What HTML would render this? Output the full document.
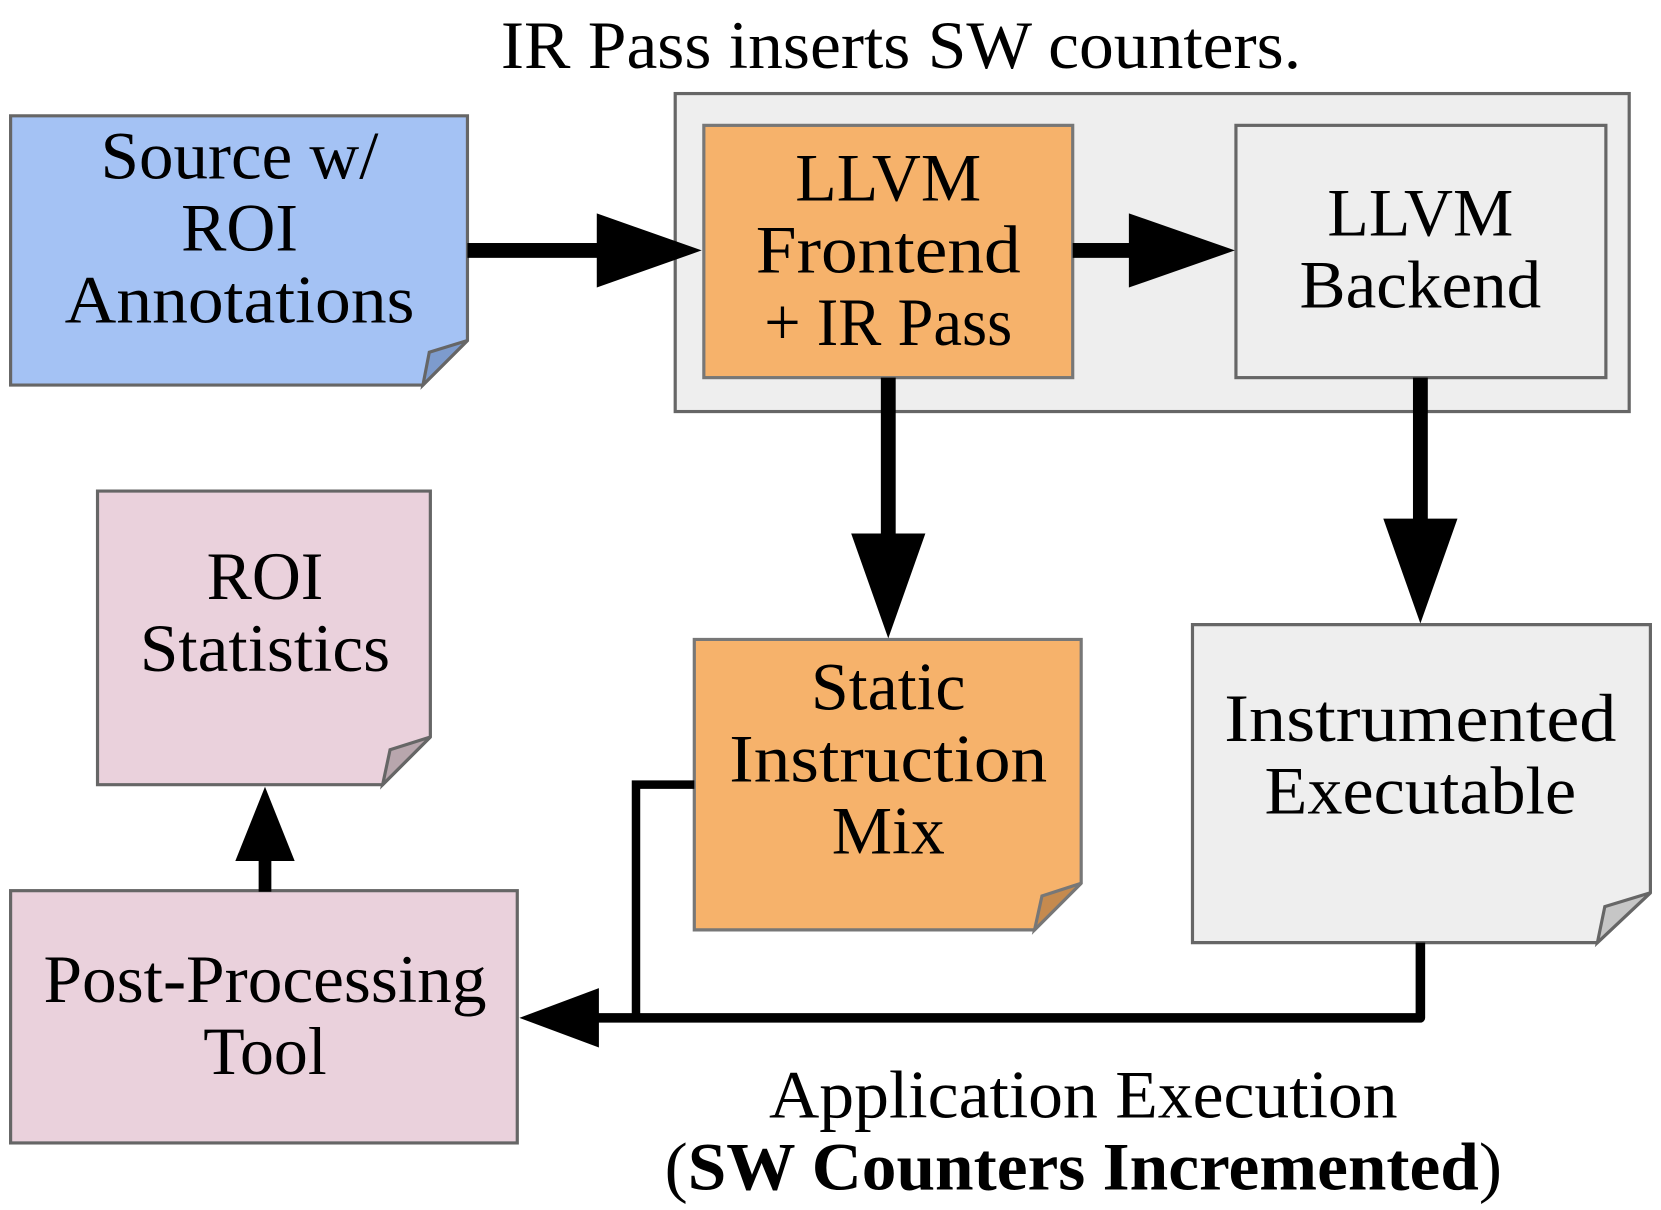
<!DOCTYPE html>
<html><head><meta charset="utf-8"><style>
html,body{margin:0;padding:0;background:#fff;}
svg{display:block}
</style></head><body>
<svg width="1661" height="1210" viewBox="0 0 1567 1141" xmlns="http://www.w3.org/2000/svg" font-family="'Liberation Serif', serif">
<text x="850" y="64" font-size="64" text-anchor="middle" textLength="755" lengthAdjust="spacingAndGlyphs">IR Pass inserts SW counters.</text>
<!-- container -->
<rect x="637" y="88" width="900" height="300" fill="#eeeeee" stroke="#666" stroke-width="3"/>
<rect x="664" y="118" width="348" height="238" fill="#f6b26b" stroke="#777" stroke-width="3"/>
<rect x="1166" y="118" width="349" height="238" fill="#eeeeee" stroke="#666" stroke-width="3"/>
<!-- folded notes -->
<polygon points="10,109 441,109 441,321 399,363 10,363" fill="#a4c2f4" stroke="#666" stroke-width="3"/>
<polygon points="441,321 405,332 399,363" fill="#7d9bcd" stroke="#666" stroke-width="3"/>
<polygon points="655,603 1020,603 1020,833 976,877 655,877" fill="#f6b26b" stroke="#777" stroke-width="3"/>
<polygon points="1020,833 983,845 976,877" fill="#c58a4e" stroke="#777" stroke-width="3"/>
<polygon points="1125,589 1557,589 1557,842 1507,889 1125,889" fill="#eeeeee" stroke="#666" stroke-width="3"/>
<polygon points="1557,842 1514,855 1507,889" fill="#c6c6c6" stroke="#666" stroke-width="3"/>
<polygon points="92,463 406,463 406,695 361,740 92,740" fill="#ead1dc" stroke="#666" stroke-width="3"/>
<polygon points="406,695 368,707 361,740" fill="#b8a6ad" stroke="#666" stroke-width="3"/>
<rect x="10" y="840" width="478" height="238" fill="#ead1dc" stroke="#666" stroke-width="3"/>
<!-- arrows -->
<g fill="#000">
<rect x="441" y="229" width="130" height="14"/>
<polygon points="563,201 662,236 563,271"/>
<rect x="1012" y="229" width="60" height="14"/>
<polygon points="1065,201 1165,236 1065,271"/>
<rect x="831" y="356" width="14" height="152"/>
<polygon points="803,503 873,503 838,602"/>
<rect x="1333" y="356" width="14" height="137"/>
<polygon points="1305,489 1375,489 1340,588"/>
<rect x="244" y="805" width="12" height="36"/>
<polygon points="222,812 278,812 250,742"/>
<polygon points="565,932 565,988 490,960"/>
</g>
<polyline points="1340,889 1340,960 560,960" fill="none" stroke="#000" stroke-width="9" stroke-linejoin="round"/>
<polyline points="655,740 600,740 600,960" fill="none" stroke="#000" stroke-width="8"/>
<!-- labels -->
<g font-size="64" text-anchor="middle" lengthAdjust="spacingAndGlyphs">
<text x="226" y="168" textLength="262" lengthAdjust="spacingAndGlyphs">Source w/</text>
<text x="226" y="236">ROI</text>
<text x="226" y="304" textLength="330" lengthAdjust="spacingAndGlyphs">Annotations</text>
<text x="838" y="189">LLVM</text>
<text x="838" y="257" textLength="250" lengthAdjust="spacingAndGlyphs">Frontend</text>
<text x="838" y="325" textLength="234" lengthAdjust="spacingAndGlyphs">+ IR Pass</text>
<text x="1340" y="222">LLVM</text>
<text x="1340" y="290" textLength="228" lengthAdjust="spacingAndGlyphs">Backend</text>
<text x="838" y="669">Static</text>
<text x="838" y="737" textLength="300" lengthAdjust="spacingAndGlyphs">Instruction</text>
<text x="838" y="805">Mix</text>
<text x="1340" y="699" textLength="370" lengthAdjust="spacingAndGlyphs">Instrumented</text>
<text x="1340" y="767" textLength="294" lengthAdjust="spacingAndGlyphs">Executable</text>
<text x="250" y="565">ROI</text>
<text x="250" y="633" textLength="236" lengthAdjust="spacingAndGlyphs">Statistics</text>
<text x="250" y="945" textLength="418" lengthAdjust="spacingAndGlyphs">Post-Processing</text>
<text x="250" y="1013">Tool</text>
<text x="1022" y="1054" textLength="593" lengthAdjust="spacingAndGlyphs">Application Execution</text>
<text x="1022" y="1122" textLength="790" lengthAdjust="spacingAndGlyphs">(<tspan font-weight="bold">SW Counters Incremented</tspan>)</text>
</g>
</svg>
</body></html>
